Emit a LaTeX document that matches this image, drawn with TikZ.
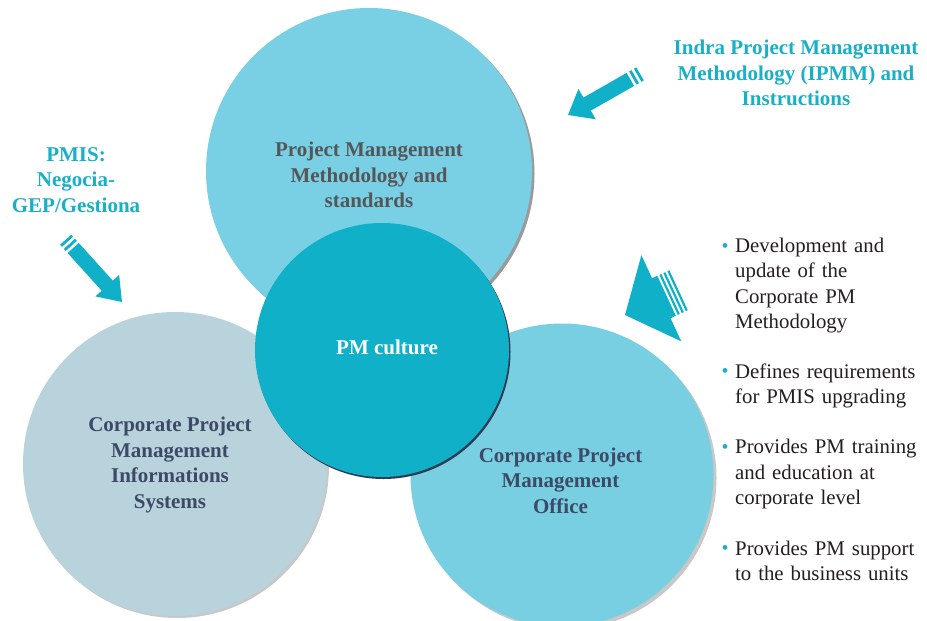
\documentclass[tikz,border=0pt]{standalone}
\usepackage{fontspec}
\setmainfont{Liberation Serif}
\usetikzlibrary{shadows}
\definecolor{pmTop}{HTML}{79D0E4}
\definecolor{pmHub}{HTML}{0FB0C8}
\definecolor{pmLeft}{HTML}{B9D3DC}
\definecolor{pmRight}{HTML}{79CFE2}
\definecolor{pmTeal}{HTML}{19AFC7}
\definecolor{pmGray}{HTML}{555658}
\definecolor{pmSlate}{HTML}{3C4A67}
\definecolor{pmInk}{HTML}{231F20}
\definecolor{pmNavy}{HTML}{2E3B55}
\definecolor{pmShadeDark}{HTML}{9A9A9A}
\definecolor{pmShadeLight}{HTML}{C8C8C8}
\newcommand{\pmbold}{\fontsize{21}{25.5}\selectfont\bfseries}
\newcommand{\pmdot}{\llap{\textcolor{pmTeal}{\raisebox{0.5pt}{\fontsize{20}{20}\selectfont\textbullet}}\hspace{6.5pt}}}
\tikzset{
  pm circ/.style={circle, inner sep=0pt, draw=none},
  pm label/.style={align=center, font=\pmbold, inner sep=0pt},
  pm title/.style={pm label, text=pmTeal},
  pm item/.style={anchor=north west, align=left, text width=190pt, inner sep=0pt,
    font=\fontsize{20.8}{25.3}\selectfont, text=pmInk},
  pm arrow/.style={fill=pmHub},
}
% striped block arrow: tip, angle, length, head length, head width, shaft width, stripe, stripes
\newcommand{\pmarrow}[8]{%
  \begin{scope}[shift={#1}, rotate=#2]
    \fill[pm arrow] (0,0) -- (-#4,#5/2) -- (-#4,-#5/2) -- cycle;
    \fill[pm arrow] (-#4+0.5,-#6/2) rectangle (-#3+2*#8*#7,#6/2);
    \foreach \s in {1,...,#8}
      \fill[pm arrow] (-#3+2*\s*#7-2*#7,-#6/2) rectangle ++(#7,#6);
  \end{scope}}

\begin{document}
\begin{tikzpicture}[x=1pt, y=-1pt]
 \useasboundingbox[fill=white] (0,0) rectangle (927,621);

 % outer circles
 \node[pm circ, fill=pmTop, minimum size=326pt,
   drop shadow={shadow xshift=2.5pt, shadow yshift=-2.5pt, fill=pmShadeDark, opacity=1}] (meth) at (369,171) {};
 \node[pm label, text=pmGray] (methtxt) at (369,175) {Project Management\\Methodology and\\standards};

 \node[pm circ, fill=pmLeft, minimum size=304pt,
   drop shadow={shadow xshift=2pt, shadow yshift=-2pt, fill=pmShadeLight, opacity=1}] (pmis) at (175,464) {};
 \node[pm label, text=pmSlate] (pmistxt) at (170,465) {Corporate Project\\Management\\Informations\\Systems};

 \node[pm circ, fill=pmRight, minimum size=303pt,
   drop shadow={shadow xshift=3pt, shadow yshift=-3pt, fill=pmShadeLight, opacity=1}] (pmo) at (562,475) {};
 \node[pm label, text=pmSlate] (pmotxt) at (560.5,480.5) {Corporate Project\\Management\\Office};

 % centre
 \node[pm circ, fill=pmHub, minimum size=254pt,
   drop shadow={shadow xshift=1.5pt, shadow yshift=-2pt, fill=pmNavy, opacity=1}] (hub) at (382,350) {};
 \node[pm label, text=white] (hubtxt) at (387,347) {PM culture};

 % side texts
 \node[pm title] (ipmm) at (796,73) {Indra Project Management\\Methodology (IPMM) and\\Instructions};
 \node[pm title] (tools) at (76,180) {PMIS:\\Negocia-\\GEP/Gestiona};
 \node[pm item] (duty1) at (735,238) {\pmdot Development and\\update of the\\Corporate PM\\Methodology};
 \node[pm item] (duty2) at (735,363.3) {\pmdot Defines requirements\\for PMIS upgrading};
 \node[pm item] (duty3) at (735,439.2) {\pmdot Provides PM training\\and education at\\corporate level};
 \node[pm item] (duty4) at (735,540.4) {\pmdot Provides PM support\\to the business units};

 % arrows
 \pmarrow{(568,115)}{209.7}{83}{22}{35}{15}{2.8}{2}
 \pmarrow{(122,302)}{-47.9}{84}{22}{32}{15}{2.8}{2}
 \pmarrow{(625,315)}{204.8}{59}{40}{95}{44}{2.2}{3}
\end{tikzpicture}
\end{document}
